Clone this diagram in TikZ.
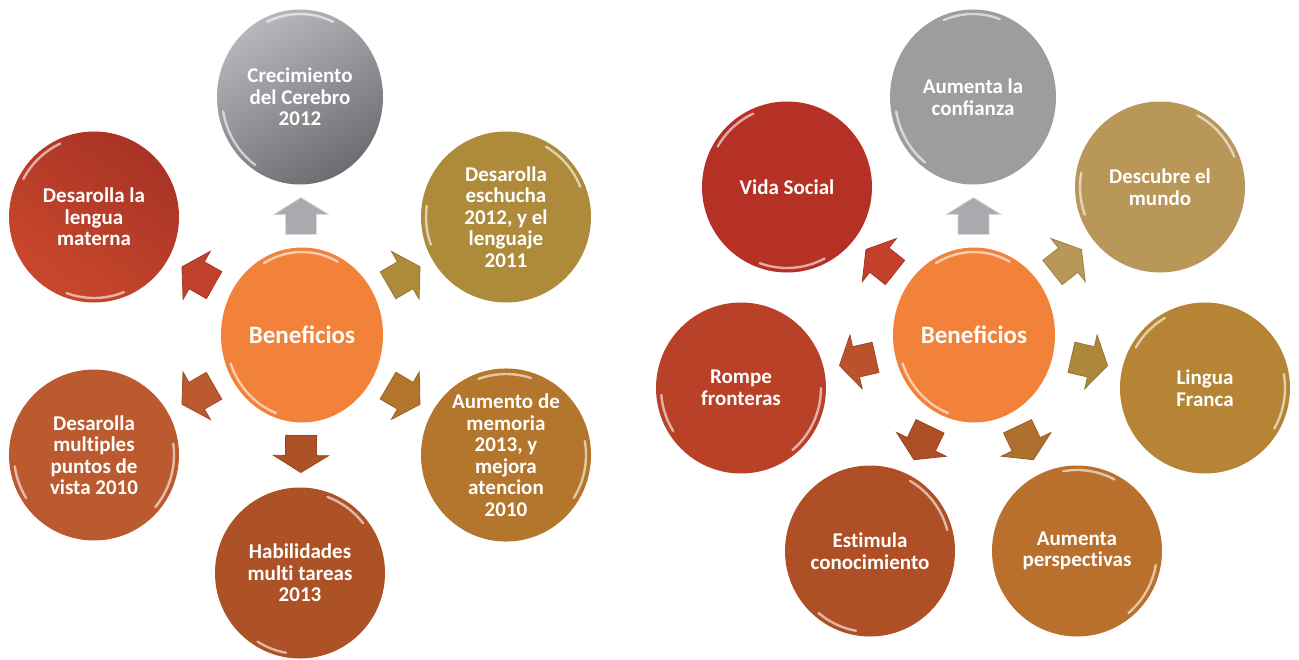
\documentclass[tikz,border=0pt]{standalone}
\usepackage{fontspec}
\setmainfont{Carlito}
\usetikzlibrary{shapes.geometric,calc}
\definecolor{hubc}{HTML}{F2823A}
\definecolor{grayL}{HTML}{B5B7BA}
\definecolor{grayD}{HTML}{6C6D70}
\definecolor{goldA}{HTML}{AE8A3B}
\definecolor{amberA}{HTML}{B4752C}
\definecolor{rustA}{HTML}{AD5226}
\definecolor{rustB}{HTML}{BC5A2F}
\definecolor{redL}{HTML}{C9482C}
\definecolor{redD}{HTML}{A93325}
\definecolor{redAr}{HTML}{C0402B}
\definecolor{grayR}{HTML}{9D9D9E}
\definecolor{tanR}{HTML}{B89758}
\definecolor{goldR}{HTML}{B58535}
\definecolor{amberR}{HTML}{B9702C}
\definecolor{rustR}{HTML}{AF4F26}
\definecolor{brickR}{HTML}{B84128}
\definecolor{redR}{HTML}{B53025}
\definecolor{arrGray}{HTML}{A9AAAD}
\definecolor{arrGrayEdge}{HTML}{D9DADB}
\definecolor{arrGoldR}{HTML}{AD883A}
\definecolor{arrAmberR}{HTML}{B0702D}
\definecolor{arrBrickR}{HTML}{BA532C}
\definecolor{arrRedR}{HTML}{C4402A}
\newcommand\nolig{\kern0pt }
\newcommand\linkarrow[4]{%
  \path let \p1=(#1.center), \p2=(#2.center), \n1={atan2(\y2-\y1,\x2-\x1)} in
    ($(\p1)!0.5!(\p2)$) coordinate (mid-#2) \pgfextra{\xdef\linkang{\n1}};
  \draw[linkshape, fill=#3, draw=#4, shift={(mid-#2)}, rotate=\linkang]
    (-18.5,-15.5) -- (1.5,-15.5) -- (1.5,-27.5) -- (18.5,0) -- (1.5,27.5)
    -- (1.5,15.5) -- (-18.5,15.5) -- cycle;
}
\newcommand\gloss[5]{%
  \draw[glossline] ([shift={(#2:#4pt and #5pt)}]#1.center)
    arc[start angle=#2, end angle=#3, x radius=#4pt, y radius=#5pt];
}
\begin{document}
\begin{tikzpicture}[x=1pt,y=1pt,
  bub/.style={ellipse, inner sep=0pt, minimum width=170pt, minimum height=171pt,
    text=white, align=center, font=\fontsize{21}{21.5}\selectfont\bfseries},
  hub/.style={bub, minimum width=162pt, minimum height=175pt, fill=hubc,
    font=\fontsize{25}{27}\selectfont\bfseries},
  glossline/.style={white, opacity=0.6, line width=2.4pt, line cap=round},
  linkshape/.style={line width=0.8pt, line join=miter}
]
\fill[white] (0,0) rectangle (1299,-659);
\useasboundingbox (0,0) rectangle (1299,-659);

% ---------- left diagram ----------
\node[hub] (c1) at (302,-335) {Beneficios};
\node[bub, minimum width=166pt, minimum height=175pt, top color=grayL, bottom color=grayD, shading angle=30]
  (a1) at (300,-97) {Crecimiento\\del Cerebro\\2012};
\node[bub, fill=goldA] (a2) at (506,-217) {Desarolla\\eschucha\\2012, y el\\lenguaje\\2011};
\node[bub, fill=amberA] (a3) at (506,-455) {Aumento de\\memoria\\2013, y\\mejora\\atencion\\2010};
\node[bub, fill=rustA] (a4) at (300,-573) {Habilidades\\mult\nolig i tareas\\2013};
\node[bub, fill=rustB] (a5) at (94,-455) {Desarolla\\mult\nolig iples\\puntos de\\vista 2010};
\node[bub, top color=redD, bottom color=redL, shading angle=-35] (a6) at (94,-217) {Desarolla la\\lengua\\materna};

\linkarrow{c1}{a1}{arrGray}{arrGrayEdge}
\linkarrow{c1}{a2}{goldA}{goldA!85!black}
\linkarrow{c1}{a3}{amberA}{amberA!85!black}
\linkarrow{c1}{a4}{rustA}{rustA!85!black}
\linkarrow{c1}{a5}{rustB}{rustB!85!black}
\linkarrow{c1}{a6}{redAr}{redAr!85!black}

\gloss{c1}{120}{62}{76}{83}
\gloss{c1}{200}{250}{76}{83}
\gloss{a1}{115}{65}{78}{83}
\gloss{a1}{190}{235}{78}{83}
\gloss{a2}{60}{22}{80}{81}
\gloss{a2}{172}{200}{80}{81}
\gloss{a3}{110}{72}{80}{81}
\gloss{a3}{10}{-32}{80}{81}
\gloss{a4}{70}{38}{80}{81}
\gloss{a4}{-100}{-122}{80}{81}
\gloss{a5}{8}{-40}{80}{81}
\gloss{a5}{188}{212}{80}{81}
\gloss{a6}{152}{115}{80}{81}
\gloss{a6}{-68}{-110}{80}{81}

% ---------- right diagram ----------
\node[hub] (c2) at (974,-335) {Beneficios};
\node[bub, minimum width=166pt, minimum height=175pt, fill=grayR] (b1) at (973,-97) {Aumenta la\\confianza};
\node[bub, fill=tanR] (b2) at (1160,-187) {Descubre el\\mundo};
\node[bub, fill=goldR] (b3) at (1205,-388) {Lingua\\Franca};
\node[bub, fill=amberR] (b4) at (1077,-551) {Aumenta\\perspect\nolig ivas};
\node[bub, fill=rustR] (b5) at (870,-551) {Est\nolig imula\\conocimiento};
\node[bub, fill=brickR] (b6) at (741,-388) {Rompe\\fronteras};
\node[bub, fill=redR] (b7) at (787,-187) {Vida Social};

\linkarrow{c2}{b1}{arrGray}{arrGrayEdge}
\linkarrow{c2}{b2}{tanR}{tanR!85!black}
\linkarrow{c2}{b3}{arrGoldR}{arrGoldR!85!black}
\linkarrow{c2}{b4}{arrAmberR}{arrAmberR!85!black}
\linkarrow{c2}{b5}{rustR}{rustR!85!black}
\linkarrow{c2}{b6}{arrBrickR}{arrBrickR!85!black}
\linkarrow{c2}{b7}{arrRedR}{arrRedR!85!black}

\gloss{c2}{120}{62}{76}{83}
\gloss{c2}{200}{250}{76}{83}
\gloss{b1}{112}{70}{78}{83}
\gloss{b1}{190}{232}{78}{83}
\gloss{b2}{62}{22}{80}{81}
\gloss{b2}{170}{200}{80}{81}
\gloss{b3}{150}{120}{80}{81}
\gloss{b3}{10}{-30}{80}{81}
\gloss{b4}{100}{62}{80}{81}
\gloss{b4}{-10}{-50}{80}{81}
\gloss{b5}{60}{15}{80}{81}
\gloss{b5}{-100}{-130}{80}{81}
\gloss{b6}{185}{212}{80}{81}
\gloss{b6}{0}{-50}{80}{81}
\gloss{b7}{150}{115}{80}{81}
\gloss{b7}{-62}{-110}{80}{81}
\end{tikzpicture}
\end{document}
